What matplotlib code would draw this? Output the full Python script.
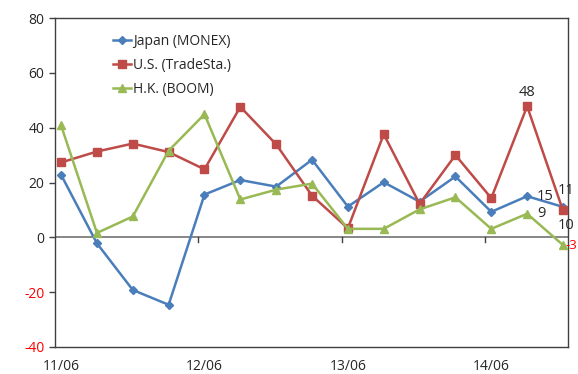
import matplotlib
matplotlib.use("Agg")
import matplotlib.pyplot as plt
import numpy as np

# Quarterly series, June 2011 through December 2014
periods = ["11/06", "11/09", "11/12", "12/03", "12/06", "12/09", "12/12", "13/03",
           "13/06", "13/09", "13/12", "14/03", "14/06", "14/09", "14/12"]
japan = [22.8, -2.2, -19.2, -24.6, 15.6, 20.9, 18.5, 28.3, 11.2, 20.1, 13.0, 22.2, 9.3, 15.0, 11.1]
us = [27.3, 31.3, 34.2, 31.1, 24.8, 47.6, 33.9, 15.2, 3.3, 37.6, 12.2, 30.0, 14.3, 47.8, 9.8]
hk = [40.8, 1.6, 7.6, 31.6, 44.9, 13.8, 17.4, 19.6, 3.1, 3.1, 10.2, 14.6, 3.1, 8.6, -2.8]
series_names = ["Japan (MONEX)", "U.S. (TradeSta.)", "H.K. (BOOM)"]
tick_labels = ["11/06", "12/06", "13/06", "14/06"]
y_ticks = [-40, -20, 0, 20, 40, 60, 80]

BLUE = "#4A7EBB"
RED = "#BE4B48"
GREEN = "#98B954"
FONT = "Open Sans"

plt.rcParams["font.family"] = [FONT, "DejaVu Sans"]

fig = plt.figure(figsize=(5.78, 3.74), dpi=100)
ax = fig.add_axes([55 / 578, 1 - 347 / 374, 513 / 578, 329 / 374])

x = np.arange(len(periods))
ax.plot(x, japan, color=BLUE, lw=1.8, marker="D", ms=4.2, mfc=BLUE, mec=BLUE,
        label=series_names[0], zorder=3)
ax.plot(x, us, color=RED, lw=1.8, marker="s", ms=5.5, mfc=RED, mec=RED,
        label=series_names[1], zorder=3)
ax.plot(x, hk, color=GREEN, lw=1.8, marker="^", ms=6, mfc=GREEN, mec=GREEN,
        label=series_names[2], zorder=3)

ax.set_xlim(-0.17, 14.14)
ax.set_ylim(-40, 80)

# zero line acting as the category axis
ax.axhline(0, color="#868686", lw=1.4, zorder=2)
for k in range(1, 4):
    ax.plot([-0.17 + 4 * k] * 2, [0, -1.6], color="#404040", lw=1.0, zorder=2,
            clip_on=False)

# category labels under the plot area
ax.set_xticks(x[::4])
ax.set_xticklabels(tick_labels, fontsize=10)
ax.tick_params(axis="x", length=0, pad=8.5)

ax.set_yticks(y_ticks)
ax.set_yticklabels([str(v) for v in y_ticks], fontsize=10)
ax.tick_params(axis="y", length=4.5, width=1.0, color="#404040", pad=3)
for lab, v in zip(ax.get_yticklabels(), y_ticks):
    lab.set_color("#FF0000" if v < 0 else "#262626")
for lab in ax.get_xticklabels():
    lab.set_color("#262626")

for sp in ax.spines.values():
    sp.set_color("#404040")
    sp.set_linewidth(1.0)


def value_label(xi, yi, dx, dy, ha="center", size=10.5):
    color = "#FF0000" if yi < 0 else "#262626"
    ax.annotate(f"{yi:.0f}", (xi, yi), xytext=(dx, dy), textcoords="offset points",
                ha=ha, va="center", fontsize=size, color=color, annotation_clip=False,
                zorder=5)


value_label(13, us[13], 0, 10)
value_label(13, japan[13], 7, 0, ha="left")
value_label(13, hk[13], 7, 0, ha="left")
value_label(14, japan[14], 2, 12)
value_label(14, us[14], 2, -11)
value_label(14, hk[14], 2, 0, ha="left", size=9.5)

leg = ax.legend(loc="upper left", bbox_to_anchor=(0.113, 0.952), frameon=False,
                fontsize=10, handlelength=1.3, handletextpad=0.15, labelspacing=0.65,
                borderpad=0, borderaxespad=0)
for t in leg.get_texts():
    t.set_color("#262626")

fig.savefig("out.png", dpi=100)
